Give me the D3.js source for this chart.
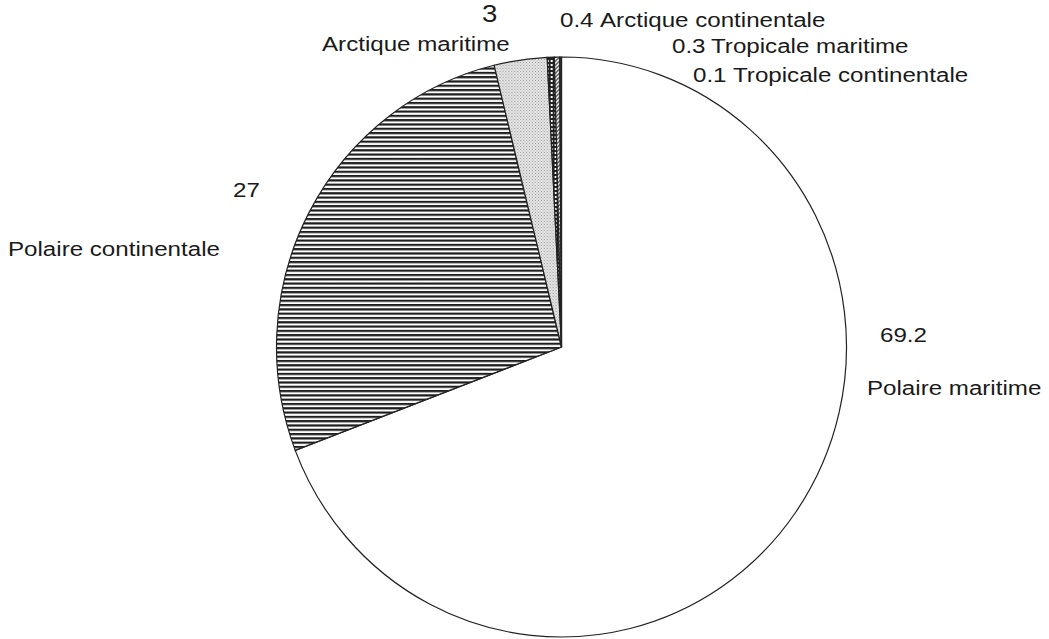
<!DOCTYPE html>
<html><head><meta charset="utf-8">
<script src="https://cdn.jsdelivr.net/npm/d3@7"></script>
<style>
body{margin:0;background:#fff;}
text{font-family:"Liberation Sans",Arial,sans-serif;fill:#1a1a1a;}
</style></head>
<body><svg id="c" width="1049" height="639"></svg>
<script>
// data
const categories = ["Polaire maritime","Polaire continentale","Arctique maritime","Arctique continentale","Tropicale maritime","Tropicale continentale"];
const values = [69.2, 27, 3, 0.4, 0.3, 0.1];
const valueLabels = ["69.2","27","3","0.4","0.3","0.1"];

const svg = d3.select("#c");
const W = 1049, H = 639;
svg.append("rect").attr("width",W).attr("height",H).attr("fill","#fff");

const defs = svg.append("defs");
const p1 = defs.append("pattern").attr("id","hlines").attr("patternUnits","userSpaceOnUse").attr("width",8).attr("height",4.3);
p1.append("rect").attr("width",8).attr("height",4.3).attr("fill","#fff");
p1.append("rect").attr("y",0).attr("width",8).attr("height",2.2).attr("fill","#1e1e1e");
const p2 = defs.append("pattern").attr("id","dots").attr("patternUnits","userSpaceOnUse").attr("width",3).attr("height",3);
p2.append("rect").attr("width",3).attr("height",3).attr("fill","#e6e6e6");
p2.append("rect").attr("width",1).attr("height",1).attr("fill","#9a9a9a");
p2.append("rect").attr("x",1.5).attr("y",1.5).attr("width",1).attr("height",1).attr("fill","#aaa");
const p3 = defs.append("pattern").attr("id","check").attr("patternUnits","userSpaceOnUse").attr("width",4).attr("height",4);
p3.append("rect").attr("width",4).attr("height",4).attr("fill","#222");
p3.append("rect").attr("x",1).attr("y",1).attr("width",2).attr("height",2).attr("fill","#fff");
const p4 = defs.append("pattern").attr("id","diag").attr("patternUnits","userSpaceOnUse").attr("width",4).attr("height",4);
p4.append("rect").attr("width",4).attr("height",4).attr("fill","#fff");
p4.append("path").attr("d","M0,4 L4,0 M-1,1 L1,-1 M3,5 L5,3").attr("stroke","#222").attr("stroke-width",1.2);

const fills = ["#ffffff","url(#hlines)","url(#dots)","url(#check)","url(#diag)","#333"];

const cx = 561.5, cy = 347, R = 290, sx = 285/290;
const pie = d3.pie().sort(null).value(d=>d)(values);
const arc = d3.arc().innerRadius(0).outerRadius(R);
const g = svg.append("g").attr("transform",`translate(${cx},${cy}) scale(${sx},1)`);
g.selectAll("path").data(pie).join("path")
  .attr("d",arc)
  .attr("fill",(d,i)=>fills[i])
  .attr("stroke","#222")
  .attr("stroke-width",1.2)
  .attr("vector-effect","non-scaling-stroke");

// label layout (positions)
const labelLayout = [
  {num:[880,342], name:[867,395]},
  {num:[233,197], name:[8,256]},
  {num:[482,22], name:[322,51], numfs:24},
  {num:[560,27], name:[600,27]},
  {num:[672,53], name:[711,53]},
  {num:[693,82], name:[733,82]}
];
const lab = svg.append("g");
categories.forEach((c,i)=>{
  const L = labelLayout[i];
  lab.append("text").attr("transform",`translate(${L.num[0]},${L.num[1]}) scale(1.15,1)`)
    .attr("font-size",L.numfs||21).text(valueLabels[i]);
  lab.append("text").attr("transform",`translate(${L.name[0]},${L.name[1]}) scale(1.15,1)`)
    .attr("font-size",21).text(c);
});
</script></body></html>
